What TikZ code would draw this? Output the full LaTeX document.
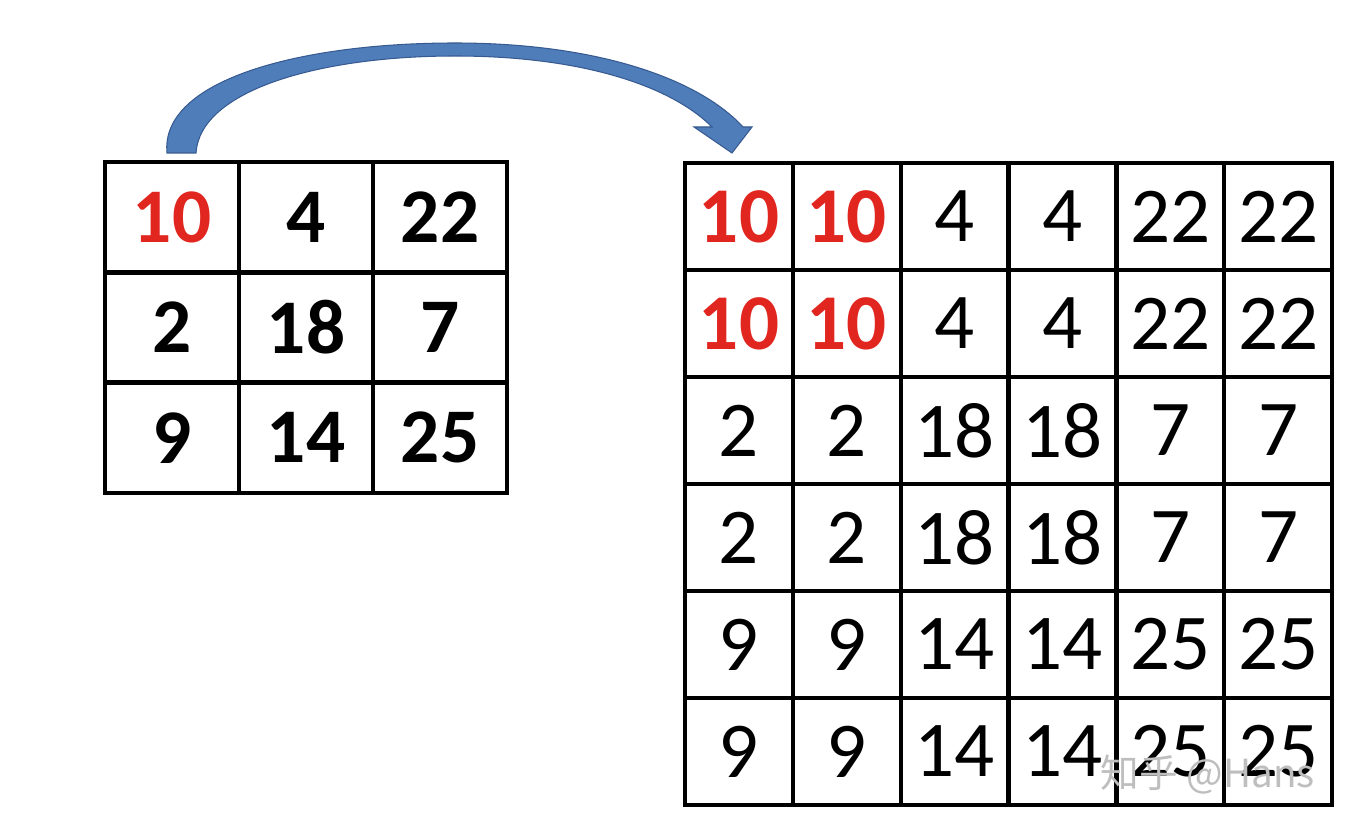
\documentclass[tikz,border=0pt]{standalone}
\usepackage{fontspec}
\setmainfont{Carlito}
\newfontfamily\cjk{Noto Sans CJK SC}
\definecolor{numred}{RGB}{225,38,32}
\definecolor{arrblue}{RGB}{79,125,185}
\definecolor{arredge}{RGB}{55,90,145}
\definecolor{wmgray}{RGB}{190,190,190}
\begin{document}
\begin{tikzpicture}[x=0.02cm,y=-0.02cm,
  lcell/.style={draw=black,line width=2.5pt,minimum width=2.68cm,minimum height=2.2067cm,inner sep=0pt,font=\fontsize{44}{50}\selectfont\bfseries},
  rcell/.style={draw=black,line width=2.5pt,minimum width=2.1567cm,minimum height=2.14cm,inner sep=0pt,font=\fontsize{45}{50}\selectfont},
  arrowshape/.style={fill=arrblue,draw=arredge,line width=0.6pt}]
\useasboundingbox (0,0) rectangle (1368,834);
% left grid
\foreach \v [count=\i from 0] in {10,4,22,2,18,7,9,14,25}{
  \pgfmathtruncatemacro\r{int(\i/3)}
  \pgfmathtruncatemacro\c{mod(\i,3)}
  \node[lcell] (L-\r-\c) at ({172+134*\c},{217.2+110.33*\r}) {\ifnum\i=0 \color{numred}\fi\v};
}
% right grid
\foreach \r in {0,...,5}{
  \foreach \c in {0,...,5}{
    \pgfmathtruncatemacro\v{{10,4,22,2,18,7,9,14,25}[int(\r/2)*3+int(\c/2)]}
    \node[rcell] (R-\r-\c) at ({739+107.83*\c},{216.5+107*\r}) {\ifnum\v=10 \bfseries\color{numred}\fi\v};
  }
}
% curved arrow
\coordinate (tailL) at (167,153);
\coordinate (tailR) at (196,153);
\draw[arrowshape] (tailL) .. controls (160,80) and (300,43) .. (455,43)
  .. controls (600,43) and (700,80) .. (743,127)
  -- (752,127) -- (732,153) -- (694,127) -- (712,127)
  .. controls (670,85) and (580,56) .. (455,56)
  .. controls (320,56) and (200,90) .. (tailR) -- cycle;
% watermark
\node[text=wmgray,font=\cjk\fontsize{22}{26}\selectfont,inner sep=0pt] (wm) at (1208,775) {知乎 @Hans};
\end{tikzpicture}
\end{document}
